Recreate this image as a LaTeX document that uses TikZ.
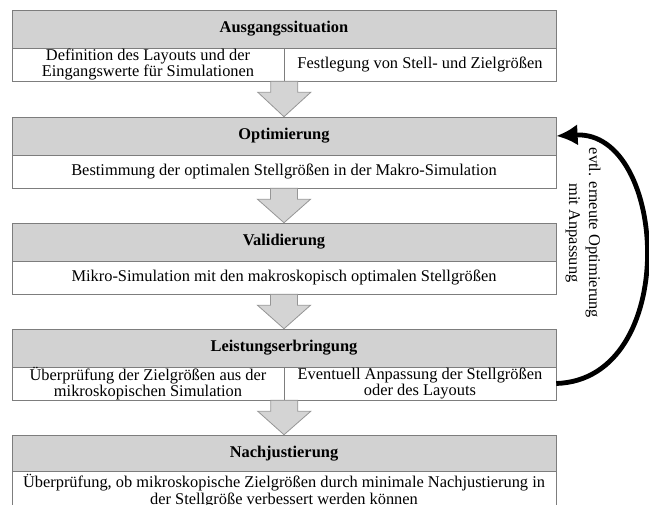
\documentclass[tikz,border=0pt]{standalone}
\usepackage{fontspec}
\setmainfont{Liberation Serif}
\usetikzlibrary{arrows.meta,calc}

\definecolor{headgray}{RGB}{210,210,210}
\definecolor{edgegray}{RGB}{125,125,125}
\definecolor{arrowgray}{RGB}{212,212,212}
\definecolor{arrowedge}{RGB}{150,150,150}

\tikzset{
  headbox/.style={draw=edgegray, fill=headgray, minimum width=408pt, minimum height=28.5pt,
    inner sep=0pt, font=\fontsize{12.3}{13}\selectfont\bfseries},
  rowbox/.style={draw=edgegray, fill=white, minimum width=408pt, minimum height=24.75pt,
    inner sep=0pt, align=center, font=\fontsize{12.3}{10.6}\selectfont},
  halfbox/.style={rowbox, minimum width=204pt},
  flowarrow/.style={draw=arrowedge, fill=arrowgray, line width=0.6pt},
  loopback/.style={line width=3.6pt, -{Latex[length=16pt,width=16pt]}},
  looplabel/.style={align=center, inner sep=0pt, font=\fontsize{12.3}{15}\selectfont}
}

\begin{document}
\begin{tikzpicture}[x=0.75pt,y=0.75pt]
\useasboundingbox (0,0) rectangle (649,505);
\clip (0,0) rectangle (649,505);

% Ausgangssituation
\node[headbox] (h1) at (284,476) {Ausgangssituation};
\node[halfbox] (l1) at (148,440.5) {Definition des Layouts und der\\Eingangswerte für Simulationen};
\node[halfbox] (r1) at (420,440.5) {Festlegung von Stell- und Zielgrößen};

% Optimierung
\node[headbox] (h2) at (284,369) {Optimierung};
\node[rowbox] (r2) at (284,333.5) {Bestimmung der optimalen Stellgrößen in der Makro-Simulation};

% Validierung
\node[headbox] (h3) at (284,263) {Validierung};
\node[rowbox] (r3) at (284,227.5) {Mikro-Simulation mit den makroskopisch optimalen Stellgrößen};

% Leistungserbringung
\node[headbox] (h4) at (284,157) {Leistungserbringung};
\node[halfbox] (l4) at (148,121.5) {Überprüfung der Zielgrößen aus der\\mikroskopischen Simulation};
\node[halfbox] (r4) at (420,121.5) {Eventuell Anpassung der Stellgrößen\\oder des Layouts};

% Nachjustierung
\node[headbox] (h5) at (284,51) {Nachjustierung};
\node[rowbox, minimum height=30pt] (r5) at (284,14) {Überprüfung, ob mikroskopische Zielgrößen durch minimale Nachjustierung in\\der Stellgröße verbessert werden können};

% block arrows
\foreach \a/\b in {l1.south east/h2.north, r2.south/h3.north, r3.south/h4.north, l4.south east/h5.north}
  \draw[flowarrow] ($(\a)+(-13.5,0)$) -- ($(\a)+(13.5,0)$) -- ($(\a)+(13.5,-11)$)
    -- ($(\a)+(26.5,-11)$) -- (\b) -- ($(\a)+(-26.5,-11)$) -- ($(\a)+(-13.5,-11)$) -- cycle;

% loop back
\draw[loopback] (r4.east) .. controls +(125,4) and +(112,6) .. (h2.east);
\node[looplabel, rotate=-90] (lab) at (583,272) {evtl. erneute Optimierung\\mit Anpassung};
\end{tikzpicture}
\end{document}
